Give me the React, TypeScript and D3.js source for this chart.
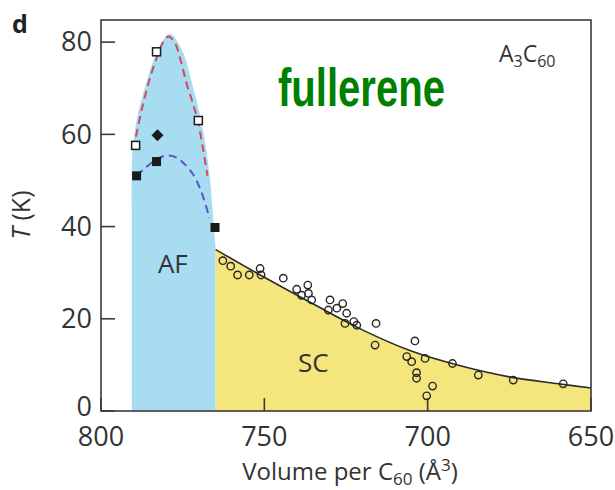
import * as d3 from 'd3'

const width = 615
const height = 490
const margin = { top: 20, right: 24, bottom: 79, left: 101 }

// volume per C60 (Å^3) vs T (K)
const xTicks = [800, 750, 700, 650]
const yTicks = [0, 20, 40, 60, 80]

// upper edge of the AF (blue) region
const afEdge: [number, number][] = [
  [790.6, 44],
  [790.4, 56],
  [789.1, 63],
  [786.5, 70.3],
  [783.0, 77.6],
  [778.9, 81.8],
  [774.8, 77.6],
  [772.4, 71.8],
  [769.3, 63],
  [766.9, 52],
  [765.6, 41.4],
  [764.9, 35],
]
const afLeft = 790.6
const scStart = 764.9

// dashed guide lines
const redDash: [number, number][] = [
  [789.3, 59.5],
  [787.5, 65.5],
  [785.3, 71.5],
  [783.0, 76.5],
  [781.0, 80.0],
  [779.4, 81.2],
  [777.5, 80.0],
  [775.4, 75.5],
  [773.8, 71.0],
  [772.0, 67.0],
  [770.4, 63.0],
  [768.8, 57.0],
  [767.4, 51.0],
]
const blueDash: [number, number][] = [
  [789.1, 51.0],
  [786.0, 53.0],
  [783.0, 54.6],
  [780.0, 55.4],
  [777.0, 55.0],
  [774.5, 53.6],
  [772.0, 51.5],
  [770.0, 48.8],
  [768.3, 45.5],
  [766.8, 41.8],
]

// SC boundary
const scCurve: [number, number][] = [
  [764.9, 35.0],
  [750, 29.0],
  [735, 23.2],
  [720, 17.6],
  [705, 13.0],
  [690, 9.8],
  [675, 7.4],
  [660, 5.9],
  [650, 5.0],
]

const openSquares: [number, number][] = [
  [789.4, 57.6],
  [783.0, 77.9],
  [770.2, 63.0],
]
const filledSquares: [number, number][] = [
  [789.1, 51.0],
  [783.0, 54.1],
  [765.1, 39.8],
]
const diamonds: [number, number][] = [[782.7, 59.8]]

const scPoints: [number, number][] = [
  [762.7, 32.6], [760.3, 31.4], [758.2, 29.5], [754.6, 29.5], [751.3, 30.9],
  [751.0, 29.5], [744.2, 28.8], [740.1, 26.4], [736.7, 27.3], [736.5, 25.5],
  [738.6, 25.1], [735.5, 24.1], [729.9, 24.1], [730.4, 21.9], [727.8, 22.3],
  [726.0, 23.3], [724.8, 21.2], [725.3, 19.0], [722.6, 19.4], [721.7, 18.6],
  [715.8, 19.0], [716.1, 14.3], [703.9, 15.2], [706.4, 11.8], [704.9, 10.7],
  [703.4, 8.3], [703.4, 7.1], [700.8, 11.4], [698.5, 5.4], [700.3, 3.3],
  [692.4, 10.3], [684.5, 7.8], [673.8, 6.7], [658.5, 5.9],
]

const font = '"Open Sans", "Noto Sans", sans-serif'
const axisColor = '#3a3a3a'

function App() {
  const x = d3
    .scaleLinear()
    .domain([800, 650])
    .range([margin.left, width - margin.right])
  const y = d3
    .scaleLinear()
    .domain([0, 84.8])
    .range([height - margin.bottom, margin.top])

  const smooth = d3
    .line<[number, number]>()
    .x((d) => x(d[0]))
    .y((d) => y(d[1]))
    .curve(d3.curveCatmullRom)

  const afPath =
    `M${x(afLeft)},${y(0)}L` +
    (smooth(afEdge) || '').slice(1) +
    `L${x(scStart)},${y(0)}Z`

  const scArea = d3
    .area<[number, number]>()
    .x((d) => x(d[0]))
    .y0(y(0))
    .y1((d) => y(d[1]))
    .curve(d3.curveCatmullRom)

  const x0 = margin.left
  const x1 = width - margin.right
  const y0 = height - margin.bottom
  const y1 = margin.top

  return (
    <svg
      width={width}
      height={height}
      style={{ position: 'absolute', left: 0, top: 0, background: '#fff' }}
    >
      <path d={afPath} fill="#a8dcf1" />
      <path d={scArea(scCurve) || ''} fill="#f4e57c" />
      <path
        d={smooth(scCurve) || ''}
        fill="none"
        stroke="#2b2b2b"
        strokeWidth={1.6}
      />
      <path
        d={smooth(redDash) || ''}
        fill="none"
        stroke="#cf4a60"
        strokeWidth={2}
        strokeDasharray="8,5"
      />
      <path
        d={smooth(blueDash) || ''}
        fill="none"
        stroke="#5b57c2"
        strokeWidth={2}
        strokeDasharray="8,5"
      />

      {scPoints.map((d, i) => (
        <circle
          key={i}
          cx={x(d[0])}
          cy={y(d[1])}
          r={3.7}
          fill="none"
          stroke="#262626"
          strokeWidth={1.4}
        />
      ))}
      {openSquares.map((d, i) => (
        <rect
          key={i}
          x={x(d[0]) - 4}
          y={y(d[1]) - 4}
          width={8}
          height={8}
          fill="#fff"
          stroke="#1a1a1a"
          strokeWidth={1.5}
        />
      ))}
      {filledSquares.map((d, i) => (
        <rect
          key={i}
          x={x(d[0]) - 4.5}
          y={y(d[1]) - 4.5}
          width={9}
          height={9}
          fill="#1a1a1a"
        />
      ))}
      {diamonds.map((d, i) => (
        <path
          key={i}
          d={`M${x(d[0])},${y(d[1]) - 6}L${x(d[0]) + 6},${y(d[1])}L${x(d[0])},${y(d[1]) + 6}L${x(d[0]) - 6},${y(d[1])}Z`}
          fill="#1a1a1a"
        />
      ))}

      {/* frame */}
      <rect
        x={x0}
        y={y1}
        width={x1 - x0}
        height={y0 - y1}
        fill="none"
        stroke={axisColor}
        strokeWidth={1.6}
      />
      {yTicks.map((t) => (
        <g key={t} transform={`translate(0,${y(t)})`}>
          <line x1={x0} x2={x0 + 14} stroke={axisColor} strokeWidth={1.6} />
          <text
            x={x0 - 9}
            dy={t === 0 ? '0.2em' : '0.34em'}
            textAnchor="end"
            fontFamily={font}
            fontSize={27}
            fill="#333"
          >
            {t}
          </text>
        </g>
      ))}
      {xTicks.map((t) => (
        <g key={t} transform={`translate(${x(t)},0)`}>
          <line y1={y0} y2={y0 - 13} stroke={axisColor} strokeWidth={1.6} />
          <text
            y={y0 + 35}
            textAnchor="middle"
            fontFamily={font}
            fontSize={27}
            fill="#333"
          >
            {t}
          </text>
        </g>
      ))}

      <text
        x={(x0 + x1) / 2 + 4}
        y={480}
        textAnchor="middle"
        fontFamily={font}
        fontSize={24}
        fill="#333"
      >
        Volume per C<tspan fontSize={17} dy={5}>60</tspan>
        <tspan dy={-5}> (Å</tspan>
        <tspan fontSize={17} dy={-9}>3</tspan>
        <tspan dy={9}>)</tspan>
      </text>
      <text
        transform="translate(30,215) rotate(-90)"
        textAnchor="middle"
        fontFamily={font}
        fontSize={25}
        fill="#333"
      >
        <tspan fontStyle="italic">T</tspan> (K)
      </text>
      <text x={12} y={33} fontFamily={font} fontSize={25} fontWeight="bold" fill="#222">
        d
      </text>
      <text x={x(778)} y={y(30)} textAnchor="middle" fontFamily={font} fontSize={26} fill="#333">
        AF
      </text>
      <text x={x(735)} y={y(8.5)} textAnchor="middle" fontFamily={font} fontSize={26} fill="#333">
        SC
      </text>
      <text x={499} y={62} fontFamily={font} fontSize={23} fill="#333">
        A<tspan fontSize={16} dy={5}>3</tspan>
        <tspan dy={-5}>C</tspan>
        <tspan fontSize={16} dy={5}>60</tspan>
      </text>
      <text
        x={278}
        y={106}
        fontFamily='"Liberation Sans Narrow", "Liberation Sans", Arial, sans-serif'
        fontWeight="bold"
        fontSize={54}
        fill="#008000"
        textLength={167}
        lengthAdjust="spacingAndGlyphs"
      >
        fullerene
      </text>
    </svg>
  )
}

export default App
